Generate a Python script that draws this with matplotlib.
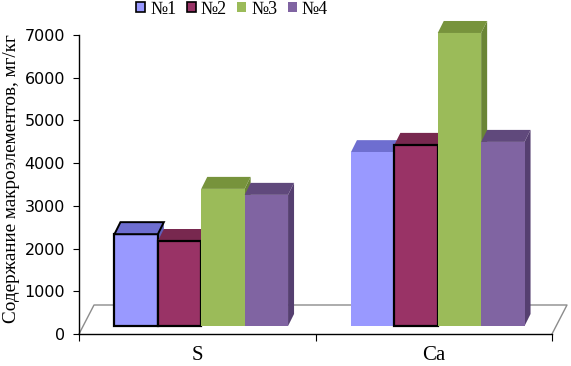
# 3D-style grouped bar chart (Excel look) of macroelement content

import matplotlib.pyplot as plt
from matplotlib.patches import Polygon, Patch

categories = ['S', 'Ca']
series = ['№1', '№2', '№3', '№4']
values = {
    '№1': [2150, 4070],
    '№2': [1990, 4240],
    '№3': [3210, 6860],
    '№4': [3070, 4310],
}
yticks = [0, 1000, 2000, 3000, 4000, 5000, 6000, 7000]
ylabel = 'Содержание макроэлементов, мг/кг'

front_colors = ['#9999FF', '#993366', '#9BBB59', '#8064A2']
top_colors = ['#6E6ED0', '#78284F', '#77933C', '#60497C']
side_colors = ['#5F5FB8', '#6A2246', '#6A8535', '#553F70']
outlined = {('S', '№1'): True, ('S', '№2'): False, ('Ca', '№2'): False}

fig = plt.figure(figsize=(5.71, 3.66), dpi=100)
W, H = 571, 366
ax = fig.add_axes([79 / W, 32 / H, 473 / W, 299 / H])
ax.set_xlim(0, 2)
ax.set_ylim(0, 7000)

# pixel -> data conversions for the fake depth
px_x = 2 / 473
px_y = 7000 / 299
bar_w = 43.4 * px_x
ddx, ddy = 6 * px_x, 12 * px_y
base = 8 * px_y
shift = 4 * px_x

# floor
fdx, fdy = 15 * px_x, 29 * px_y
floor = [(0, 0), (fdx, fdy), (2 + fdx, fdy), (2, 0)]
ax.plot([p[0] for p in floor], [p[1] for p in floor], color='#8C8C8C',
        lw=1.0, clip_on=False, zorder=1)

z = 2
for ci, cat in enumerate(categories):
    left0 = ci + 0.5 - 2 * bar_w + shift
    for si, s in enumerate(series):
        x0 = left0 + si * bar_w
        top = base + values[s][ci]
        x1 = x0 + bar_w
        side = Polygon([(x1, base), (x1 + ddx, base + ddy), (x1 + ddx, top + ddy), (x1, top)],
                       closed=True, facecolor=side_colors[si], edgecolor='none',
                       clip_on=False, zorder=z)
        topf = Polygon([(x0, top), (x1, top), (x1 + ddx, top + ddy), (x0 + ddx, top + ddy)],
                       closed=True, facecolor=top_colors[si], edgecolor='none',
                       clip_on=False, zorder=z)
        ax.add_patch(side)
        ax.add_patch(topf)
        key = (cat, s)
        if key in outlined:
            ax.bar(x0, values[s][ci], bottom=base, width=bar_w, align='edge',
                   color=front_colors[si], edgecolor='black', linewidth=1.6,
                   zorder=z + 0.5, clip_on=False)
            if outlined[key]:
                topf.set_edgecolor('black')
                topf.set_linewidth(1.4)
                topf.set_zorder(z + 0.6)
        else:
            ax.bar(x0, values[s][ci], bottom=base, width=bar_w, align='edge',
                   color=front_colors[si], linewidth=0, zorder=z + 0.5, clip_on=False)
        z += 1

for sp in ['top', 'right']:
    ax.spines[sp].set_visible(False)
ax.spines['left'].set_linewidth(1.0)
ax.spines['bottom'].set_linewidth(1.0)
ax.spines['bottom'].set_zorder(30)

ax.set_yticks(yticks)
ax.set_yticklabels([str(v) for v in yticks], fontsize=11.5, family='DejaVu Sans')
ax.tick_params(axis='y', direction='out', length=4, pad=6)

ax.set_xticks([0, 1, 2])
ax.set_xticklabels(['', '', ''])
ax.tick_params(axis='x', which='major', direction='out', length=5)
ax.set_xticks([0.5, 1.5], minor=True)
ax.set_xticklabels(categories, minor=True, fontsize=15, family='Liberation Serif')
ax.tick_params(axis='x', which='minor', length=0, pad=9)

ax.set_ylabel(ylabel, fontsize=13.8, family='Liberation Serif')
ax.yaxis.set_label_coords(-0.124, 0.52)

handles = [Patch(facecolor=front_colors[i],
                 edgecolor='black' if i < 2 else front_colors[i],
                 linewidth=1.2 if i < 2 else 0) for i in range(4)]
fig.legend(handles, series, loc='center', bbox_to_anchor=(232 / W, 1 - 9 / H), ncol=4,
           frameon=False, handlelength=0.5, handleheight=0.5, handletextpad=0.3,
           columnspacing=0.55, prop={'family': 'Liberation Serif', 'size': 13})

fig.savefig('out.png', dpi=100)
